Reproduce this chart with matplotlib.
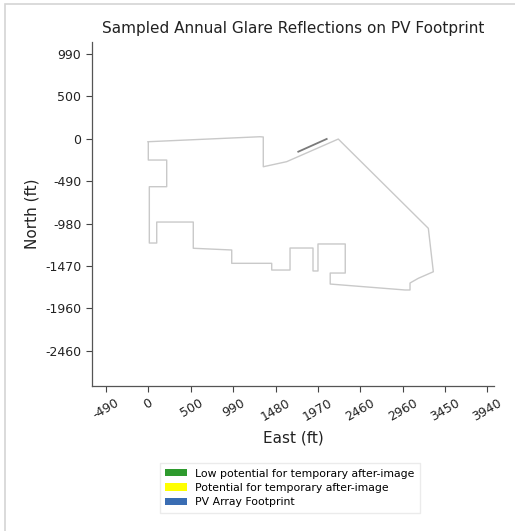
import matplotlib
matplotlib.use('Agg')
import matplotlib.pyplot as plt
from matplotlib.patches import Patch, Rectangle

# PV footprint outline (ft), traced clockwise from the NW corner
east_ft = [0, 1299, 1337, 1337, 1609, 2209, 3256, 3314, 3140, 3043, 3043, 2985,
           2115, 2115, 2290, 2290, 1973, 1973, 1915, 1915, 1648, 1648, 1435, 1435,
           970, 970, 523, 523, 98, 98, 12, 12, 214, 214, 0, 0]
north_ft = [-28, 30, 27, -319, -260, 3, -1035, -1540, -1616, -1671, -1752, -1752,
            -1683, -1555, -1555, -1217, -1217, -1531, -1531, -1264, -1264, -1520, -1520, -1442,
            -1442, -1287, -1267, -962, -962, -1206, -1206, -551, -551, -241, -241, -28]

# short darker reflection trace near the north edge
glare_east = [1744, 2074]
glare_north = [-144, 4]

xtick_vals = [-490, 0, 500, 990, 1480, 1970, 2460, 2960, 3450, 3940]
ytick_vals = [990, 500, 0, -490, -980, -1470, -1960, -2460]

legend_labels = ['Low potential for temporary after-image',
                 'Potential for temporary after-image',
                 'PV Array Footprint']
legend_colors = ['#2e9a2e', '#ffff00', '#3a6db3']

fig = plt.figure(figsize=(5.15, 5.31), dpi=100)

# light card border around the figure
fig.patches.append(Rectangle((5 / 515, -0.1), 1.2, 1.1 - 4 / 531,
                             transform=fig.transFigure, fill=False,
                             edgecolor='#d4d4d4', linewidth=1.2))

ax = fig.add_axes([91.7 / 515, 1 - 385.7 / 531, (494.3 - 91.7) / 515, (385.7 - 41.7) / 531])

ax.plot(east_ft, north_ft, color='#c9c9c9', linewidth=1.0)
ax.plot(glare_east, glare_north, color='#7a7a7a', linewidth=1.3)

ax.set_xlim(-658, 4023)
ax.set_ylim(-2865, 1135)

ax.set_xticks(xtick_vals)
ax.set_xticklabels([str(v) for v in xtick_vals], rotation=30, ha='center')
ax.set_yticks(ytick_vals)
ax.set_yticklabels([str(v) for v in ytick_vals])
ax.tick_params(labelsize=9, length=4, color='#444444', labelcolor='#222222')

for side in ['top', 'right']:
    ax.spines[side].set_visible(False)
for side in ['left', 'bottom']:
    ax.spines[side].set_color('#555555')
    ax.spines[side].set_linewidth(0.9)

ax.set_title('Sampled Annual Glare Reflections on PV Footprint', fontsize=11, pad=6,
             color='#222222')
ax.set_xlabel('East (ft)', fontsize=11, labelpad=5, color='#222222')
ax.set_ylabel('North (ft)', fontsize=11, color='#222222')

handles = [Patch(facecolor=c, edgecolor='none') for c in legend_colors]
fig.legend(handles, legend_labels, loc='upper center', bbox_to_anchor=(0.563, 0.138),
           fontsize=7.8, frameon=True, edgecolor='#e6e6e6', fancybox=False,
           handlelength=2.0, handleheight=0.65, labelspacing=0.4, borderpad=0.5,
           handletextpad=0.8)

fig.savefig('out.png', dpi=100, facecolor='white')
